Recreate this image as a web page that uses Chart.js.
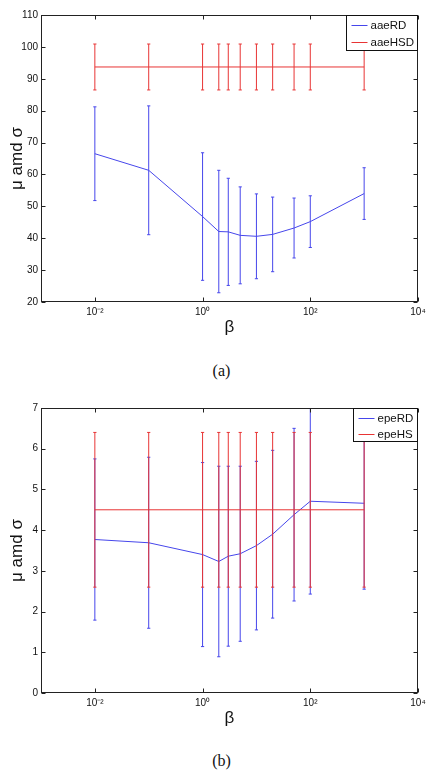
<!DOCTYPE html>
<html>
<head>
<meta charset="utf-8">
<script src="https://cdn.jsdelivr.net/npm/chart.js@4.4.0/dist/chart.umd.min.js"></script>
<style>
    body { margin: 0; background: #fff; }
    #wrap { position: relative; width: 429px; height: 783px; background: #fff; }
    canvas { position: absolute; left: 0; }
    .cap { position: absolute; left: 7px; width: 429px; text-align: center; line-height: 18px;
           font: 16px "Liberation Serif", "DejaVu Serif", serif; color: #111; }
</style>
</head>
<body>
<div id="wrap">
    <canvas id="chartA" width="429" height="345" style="top:0px"></canvas>
    <div class="cap" style="top:362px">(a)</div>
    <canvas id="chartB" width="429" height="344" style="top:392px"></canvas>
    <div class="cap" style="top:752px">(b)</div>
</div>
<script>
// значения beta по оси x
const betaValues = [0.01, 0.1, 1, 2, 3, 5, 10, 20, 50, 100, 1000];
const xTickValues = [0.01, 1, 100, 10000];
const xTickLabels = ['10⁻²', '10⁰', '10²', '10⁴'];

// график (a)
const aaeRDMean = [66.5, 61.3, 46.8, 42.1, 42.0, 40.9, 40.6, 41.2, 43.2, 45.2, 54.0];
const aaeRDStd = [14.7, 20.2, 20.0, 19.2, 16.8, 15.2, 13.3, 11.7, 9.4, 8.1, 8.1];
const aaeHSDMean = [93.7, 93.7, 93.7, 93.7, 93.7, 93.7, 93.7, 93.7, 93.7, 93.7, 93.7];
const aaeHSDStd = [7.2, 7.2, 7.2, 7.2, 7.2, 7.2, 7.2, 7.2, 7.2, 7.2, 7.2];

// график (b)
const epeRDMean = [3.77, 3.69, 3.40, 3.23, 3.36, 3.42, 3.62, 3.90, 4.38, 4.71, 4.66];
const epeRDStd = [1.98, 2.10, 2.26, 2.34, 2.21, 2.15, 2.07, 2.06, 2.12, 2.28, 2.11];
const epeHSMean = [4.5, 4.5, 4.5, 4.5, 4.5, 4.5, 4.5, 4.5, 4.5, 4.5, 4.5];
const epeHSStd = [1.9, 1.9, 1.9, 1.9, 1.9, 1.9, 1.9, 1.9, 1.9, 1.9, 1.9];

const blueColor = 'rgb(70, 70, 235)';
const redColor = 'rgb(232, 52, 52)';
const fontFamily = '"Liberation Sans", Arial, Helvetica, sans-serif';

// точки для линии средних
function meanPoints(means) {
    return betaValues.map(function (b, i) {
        return { x: b, y: means[i] };
    });
}

// точки для "усов": низ, верх, разрыв
function errorPoints(means, stds) {
    let pts = [];
    betaValues.forEach(function (b, i) {
        pts.push({ x: b, y: means[i] - stds[i] });
        pts.push({ x: b, y: means[i] + stds[i] });
        pts.push({ x: b, y: null });
    });
    return pts;
}

function seriesDatasets(label, color, means, stds, order) {
    return [{
        label: label,
        data: meanPoints(means),
        borderColor: color,
        borderWidth: 1,
        pointRadius: 0,
        tension: 0,
        order: order
    }, {
        label: label + ' err',
        data: errorPoints(means, stds),
        borderColor: color,
        borderWidth: 1,
        pointStyle: 'line',
        pointRadius: 1.6,
        pointBorderWidth: 1,
        pointBorderColor: color,
        spanGaps: false,
        order: order
    }];
}

// рамка как в matlab: тики внутрь со всех сторон + легенда
const matlabBox = {
    id: 'matlabBox',
    afterDatasetsDraw(chart, args, opts) {
        const ctx = chart.ctx;
        const a = chart.chartArea;
        const L = a.left + 0.5, R = a.right - 0.5, T = a.top + 0.5, B = a.bottom - 0.5;
        ctx.save();
        ctx.strokeStyle = '#222';
        ctx.lineWidth = 1;
        ctx.strokeRect(L, T, R - L, B - T);
        ctx.beginPath();
        chart.scales.x.ticks.forEach(function (t) {
            const px = Math.round(chart.scales.x.getPixelForValue(t.value)) + 0.5;
            ctx.moveTo(px, B); ctx.lineTo(px, B - 4);
            ctx.moveTo(px, T); ctx.lineTo(px, T + 4);
        });
        chart.scales.y.ticks.forEach(function (t) {
            const py = Math.round(chart.scales.y.getPixelForValue(t.value)) + 0.5;
            ctx.moveTo(L, py); ctx.lineTo(L + 4, py);
            ctx.moveTo(R, py); ctx.lineTo(R - 4, py);
        });
        ctx.stroke();

        // легенда
        ctx.font = '11.5px ' + fontFamily;
        let maxW = 0;
        opts.items.forEach(function (it) {
            maxW = Math.max(maxW, ctx.measureText(it.label).width);
        });
        const w = Math.round(24 + maxW + 4);
        const h = opts.boxHeight;
        const bx = Math.round(a.right) - w - 0.5;
        const by = T;
        ctx.fillStyle = '#fff';
        ctx.fillRect(bx, by, w, h);
        ctx.strokeStyle = '#111';
        ctx.strokeRect(bx, by, w, h);
        opts.items.forEach(function (it, i) {
            const iy = Math.round(by + opts.firstY + i * opts.gap) + 0.5;
            ctx.strokeStyle = it.color;
            ctx.beginPath();
            ctx.moveTo(bx + 5, iy);
            ctx.lineTo(bx + 21, iy);
            ctx.stroke();
            ctx.fillStyle = '#111';
            ctx.textBaseline = 'middle';
            ctx.textAlign = 'left';
            ctx.fillText(it.label, bx + 24, iy);
        });
        ctx.restore();
    }
};

function makeChart(id, cfg) {
    return new Chart(document.getElementById(id).getContext('2d'), {
        type: 'line',
        data: { datasets: cfg.datasets },
        options: {
            responsive: false,
            animation: false,
            devicePixelRatio: 1,
            layout: { padding: { top: cfg.padTop, right: 11, left: 0, bottom: 0 } },
            plugins: {
                legend: { display: false },
                tooltip: { enabled: false },
                matlabBox: cfg.legend
            },
            scales: {
                x: {
                    type: 'logarithmic',
                    min: 0.001,
                    max: 10000,
                    grid: { display: false, drawTicks: false },
                    border: { display: false },
                    afterBuildTicks: function (s) {
                        s.ticks = xTickValues.map(function (v) { return { value: v }; });
                    },
                    afterFit: function (s) {
                        s.height = 43;
                        s.paddingLeft = 0;
                        s.paddingRight = 0;
                    },
                    ticks: {
                        autoSkip: false,
                        maxRotation: 0,
                        padding: 4,
                        color: '#111',
                        font: { family: fontFamily, size: 10 },
                        callback: function (v, i) { return xTickLabels[i]; }
                    },
                    title: {
                        display: true,
                        text: 'β',
                        color: '#111',
                        font: { family: fontFamily, size: 17 },
                        padding: { top: 0, bottom: 7 }
                    }
                },
                y: {
                    min: cfg.yMin,
                    max: cfg.yMax,
                    grid: { display: false, drawTicks: false },
                    border: { display: false },
                    afterFit: function (s) {
                        s.width = 41;
                        s.paddingTop = 0;
                        s.paddingBottom = 0;
                    },
                    ticks: {
                        stepSize: cfg.yStep,
                        padding: 3,
                        color: '#111',
                        font: { family: fontFamily, size: 10 }
                    },
                    title: {
                        display: true,
                        text: 'μ amd σ',
                        color: '#111',
                        font: { family: fontFamily, size: 17 },
                        padding: { top: 7, bottom: 0 }
                    }
                }
            }
        },
        plugins: [matlabBox]
    });
}

let chartA = makeChart('chartA', {
    padTop: 15,
    yMin: 20, yMax: 110, yStep: 10,
    datasets: seriesDatasets('aaeRD', blueColor, aaeRDMean, aaeRDStd, 1)
        .concat(seriesDatasets('aaeHSD', redColor, aaeHSDMean, aaeHSDStd, 0)),
    legend: {
        boxHeight: 35, firstY: 9, gap: 17.5,
        items: [{ label: 'aaeRD', color: blueColor }, { label: 'aaeHSD', color: redColor }]
    }
});

let chartB = makeChart('chartB', {
    padTop: 16,
    yMin: 0, yMax: 7, yStep: 1,
    datasets: seriesDatasets('epeRD', blueColor, epeRDMean, epeRDStd, 1)
        .concat(seriesDatasets('epeHS', redColor, epeHSMean, epeHSStd, 0)),
    legend: {
        boxHeight: 33, firstY: 9.5, gap: 16,
        items: [{ label: 'epeRD', color: blueColor }, { label: 'epeHS', color: redColor }]
    }
});
</script>
</body>
</html>
